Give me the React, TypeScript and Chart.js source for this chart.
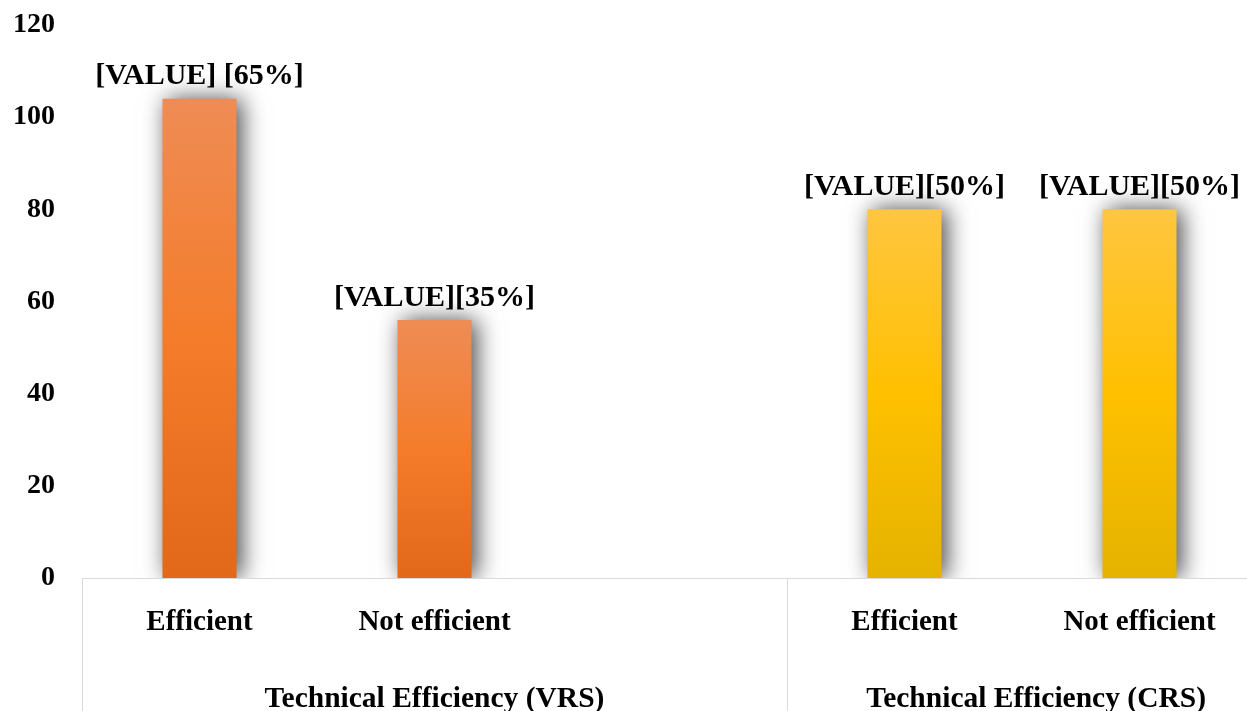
import React, { useEffect, useRef } from "react";
import { Chart, registerables } from "chart.js";

Chart.register(...registerables);

const categories = ["Efficient", "Not efficient", "", "Efficient", "Not efficient"];
const values = [104, 56, null, 80, 80];
const valueLabels = ["[VALUE] [65%]", "[VALUE][35%]", "", "[VALUE][50%]", "[VALUE][50%]"];
const groups = ["Technical Efficiency (VRS)", "Technical Efficiency (CRS)"];
const barPalette = ["orange", "orange", "orange", "yellow", "yellow"];

const FONT = "'Liberation Serif', 'Times New Roman', serif";

const shadowPlugin = {
  id: "barShadow",
  beforeDatasetsDraw(chart: any) {
    const ctx = chart.ctx;
    ctx.save();
    ctx.shadowColor = "rgba(0,0,0,0.7)";
    ctx.shadowBlur = 22;
    ctx.shadowOffsetX = 5;
    ctx.shadowOffsetY = 0;
  },
  afterDatasetsDraw(chart: any) {
    chart.ctx.restore();
  },
};

const labelsPlugin = {
  id: "customLabels",
  afterDraw(chart: any) {
    const ctx = chart.ctx;
    const meta = chart.getDatasetMeta(0);
    const x = chart.scales.x;
    const area = chart.chartArea;
    ctx.save();
    ctx.fillStyle = "#000";
    ctx.font = `bold 30px ${FONT}`;
    ctx.textAlign = "center";
    ctx.textBaseline = "middle";
    meta.data.forEach((bar: any, i: number) => {
      if (values[i] == null || !valueLabels[i]) return;
      ctx.fillText(valueLabels[i], bar.x, bar.y - 22);
    });
    const catW = x.getPixelForValue(1) - x.getPixelForValue(0);
    const sep = (x.getPixelForValue(2) + x.getPixelForValue(3)) / 2;
    ctx.strokeStyle = "#d9d9d9";
    ctx.lineWidth = 1;
    ctx.beginPath();
    ctx.moveTo(Math.round(area.left) + 0.5, area.bottom);
    ctx.lineTo(Math.round(area.left) + 0.5, chart.height);
    ctx.moveTo(Math.round(sep) + 0.5, area.bottom);
    ctx.lineTo(Math.round(sep) + 0.5, chart.height);
    ctx.stroke();
    ctx.textBaseline = "alphabetic";
    ctx.font = `bold 29.5px ${FONT}`;
    const c0 = (area.left + sep) / 2;
    const c1 = (sep + area.right) / 2 + catW * 0.06;
    ctx.fillText(groups[0], c0, area.bottom + 129);
    ctx.fillText(groups[1], c1, area.bottom + 129);
    ctx.restore();
  },
};

function makeGradient(chart: any, i: number) {
  const fallback = barPalette[i] === "orange" ? "#F47C2A" : "#FFC000";
  const y = chart.scales && chart.scales.y;
  const ctx = chart.ctx;
  const v = values[i];
  if (!y || v == null) return fallback;
  const top = y.getPixelForValue(v);
  const bottom = y.getPixelForValue(0);
  if (!isFinite(top) || !isFinite(bottom) || top === bottom) return fallback;
  const g = ctx.createLinearGradient(0, top, 0, bottom);
  if (barPalette[i] === "orange") {
    g.addColorStop(0, "#EF8C55");
    g.addColorStop(0.5, "#F47C2A");
    g.addColorStop(1, "#E2681A");
  } else {
    g.addColorStop(0, "#FFC640");
    g.addColorStop(0.5, "#FFC000");
    g.addColorStop(1, "#E5B300");
  }
  return g;
}

export default function App() {
  const ref = useRef<HTMLCanvasElement>(null);
  useEffect(() => {
    if (!ref.current) return;
    const chart = new Chart(ref.current, {
      type: "bar",
      data: {
        labels: categories,
        datasets: [
          {
            data: values as any,
            backgroundColor: (c: any) => makeGradient(c.chart, c.dataIndex),
            barPercentage: 0.63,
            categoryPercentage: 0.5,
            borderWidth: 0,
          },
        ],
      },
      options: {
        responsive: false,
        animation: false,
        layout: { padding: { top: 25, left: 0, right: 0, bottom: 0 } },
        plugins: { legend: { display: false }, tooltip: { enabled: false } },
        scales: {
          x: {
            grid: { display: false, drawTicks: false },
            border: { display: true, color: "#d9d9d9", width: 1 },
            ticks: {
              color: "#000",
              font: { family: FONT, size: 29, weight: "bold" },
              padding: 27,
              maxRotation: 0,
              autoSkip: false,
            },
            afterFit: (s: any) => {
              s.height = 133;
              s.paddingLeft = 0;
              s.paddingRight = 0;
            },
          },
          y: {
            min: 0,
            max: 120,
            grid: { display: false, drawTicks: false },
            border: { display: false },
            ticks: {
              stepSize: 20,
              color: "#000",
              font: { family: FONT, size: 28, weight: "bold" },
              padding: 27,
            },
            afterFit: (s: any) => {
              s.width = 82;
              s.paddingTop = 0;
              s.paddingBottom = 0;
            },
          },
        },
      },
      plugins: [shadowPlugin, labelsPlugin],
    });
    chart.update();
    return () => chart.destroy();
  }, []);
  return (
    <div
      style={{
        position: "fixed",
        top: 0,
        left: 0,
        width: 1247,
        height: 711,
        overflow: "hidden",
        background: "#fff",
      }}
    >
      <canvas ref={ref} width={1257} height={711} style={{ display: "block" }} />
    </div>
  );
}
